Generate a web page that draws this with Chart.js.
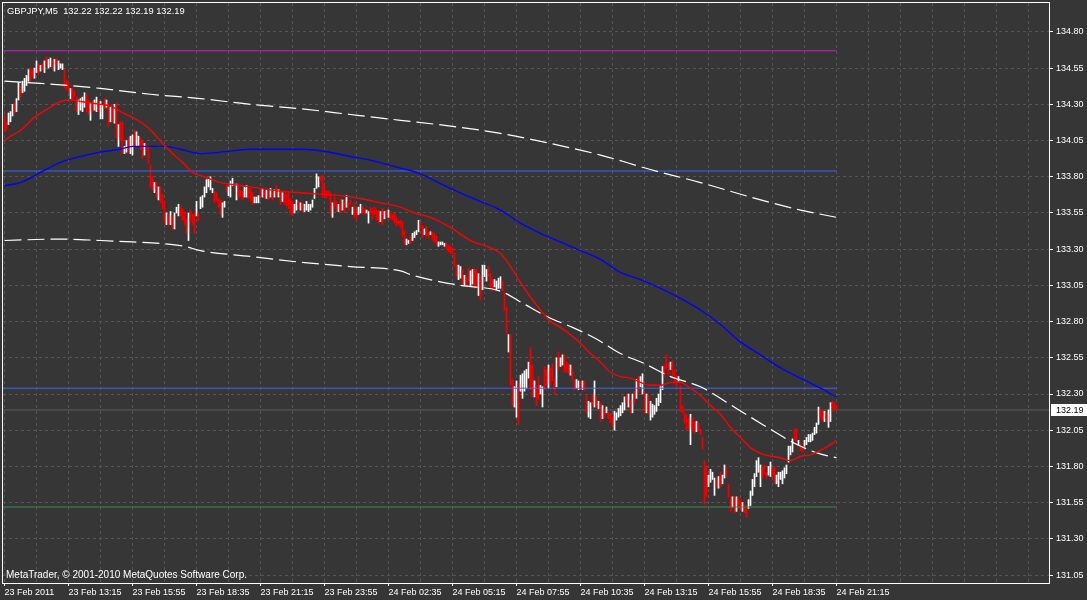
<!DOCTYPE html>
<html>
<head>
<meta charset="utf-8">
<script src="https://cdn.jsdelivr.net/npm/chart.js@4.4.1/dist/chart.umd.min.js"></script>
<style>
html,body{margin:0;padding:0;background:#363636;overflow:hidden;}
#wrap{position:relative;width:1087px;height:600px;}
canvas{display:block;}
</style>
</head>
<body>
<div id="wrap"><canvas id="c" width="1087" height="600"></canvas></div>
<script>
// ---------------- DATA ----------------
const symbolName = "GBPJPY,M5";
const lastOHLC = [132.22, 132.22, 132.19, 132.19];
const copyrightText = "MetaTrader, \u00A9 2001-2010 MetaQuotes Software Corp.";

const xTickLabels = ["23 Feb 2011","23 Feb 13:15","23 Feb 15:55","23 Feb 18:35","23 Feb 21:15","23 Feb 23:55","24 Feb 02:35","24 Feb 05:15","24 Feb 07:55","24 Feb 10:35","24 Feb 13:15","24 Feb 15:55","24 Feb 18:35","24 Feb 21:15"];
const yTickValues = [131.05,131.30,131.55,131.80,132.05,132.30,132.55,132.80,133.05,133.30,133.55,133.80,134.05,134.30,134.55,134.80];

const barHighs = [
134.23,134.18,134.24,134.25,134.30,134.31,134.34,134.45,134.43,134.46,
134.48,134.50,134.54,134.55,134.54,134.55,134.60,134.58,134.57,134.58,
134.60,134.63,134.61,134.62,134.60,134.61,134.62,134.60,134.58,134.58,
134.54,134.47,134.45,134.41,134.41,134.39,134.35,134.33,134.34,134.35,
134.38,134.37,134.33,134.31,134.32,134.33,134.35,134.32,134.32,134.30,
134.34,134.33,134.30,134.28,134.27,134.30,134.31,134.16,134.18,134.18,
134.01,134.05,134.07,134.08,134.09,134.12,134.11,134.08,134.07,134.05,
134.03,134.02,134.01,133.88,133.80,133.76,133.76,133.73,133.73,133.68,
133.63,133.55,133.54,133.56,133.53,133.55,133.59,133.61,133.59,133.58,
133.56,133.51,133.55,133.57,133.54,133.55,133.63,133.55,133.66,133.67,
133.73,133.78,133.79,133.80,
133.72,133.70,133.69,133.65,133.64,133.62,133.63,133.74,133.73,133.77,
133.79,133.75,133.75,133.74,133.71,133.70,133.73,133.74,133.72,133.72,
133.69,133.66,133.66,133.67,133.71,133.72,133.70,133.71,133.71,133.72,
133.69,133.71,133.74,133.71,133.70,133.69,133.70,133.68,133.69,133.65,
133.63,133.61,133.64,133.63,133.62,133.62,133.61,133.63,133.61,133.61,
133.64,133.72,133.82,133.80,133.80,133.81,133.74,133.70,133.70,133.69,
133.62,133.66,133.63,133.61,133.65,133.64,133.63,133.67,133.62,133.64,
133.59,133.62,133.57,133.59,133.61,133.60,133.58,133.57,133.56,133.59,
133.58,133.59,133.57,133.57,133.56,133.58,133.56,133.57,133.57,133.56,
133.54,133.55,133.52,133.50,133.50,133.49,133.43,133.37,133.36,133.39,
133.41,133.42,133.43,133.50,133.49,
133.46,133.44,133.46,133.42,133.42,133.42,133.41,133.39,133.35,133.35,
133.35,133.34,133.34,133.33,133.32,133.31,133.27,133.19,133.19,133.18,
133.16,133.12,133.11,133.17,133.15,133.16,133.17,133.16,133.13,133.12,
133.19,133.19,133.16,133.18,133.13,133.09,133.09,133.08,133.10,133.11,
133.08,133.00,132.90,132.71,132.71,132.40,132.35,132.39,132.37,132.43,
132.44,132.46,132.47,132.52,132.62,132.50,132.39,132.36,132.42,132.36,
132.35,132.49,132.47,132.50,132.48,132.51,132.40,132.55,132.59,132.55,
132.57,132.57,132.52,132.51,132.50,132.47,132.40,132.40,132.39,132.39,
132.39,132.39,132.29,132.25,132.24,132.30,132.39,132.28,132.25,132.24,
132.22,132.20,132.21,132.17,132.17,132.14,132.18,132.17,132.20,132.22,
132.24,132.28,132.30,132.30,132.26,
132.30,132.32,132.40,132.42,132.42,132.44,132.32,132.30,132.29,132.25,
132.23,132.22,132.27,132.30,132.35,132.49,132.50,132.57,132.51,132.52,
132.53,132.47,132.43,132.42,132.36,132.22,132.17,132.16,132.13,132.16,
132.14,132.11,132.11,132.10,132.06,132.00,131.84,131.80,131.74,131.78,
131.76,131.72,131.71,131.73,131.76,131.74,131.81,131.79,131.68,131.59,
131.59,131.59,131.59,131.59,131.57,131.55,131.53,131.51,131.57,131.63,
131.71,131.75,131.84,131.86,131.81,131.80,131.81,131.76,131.80,131.83,
131.79,131.80,131.74,131.76,131.76,131.77,131.79,131.81,131.94,131.94,
131.99,132.06,132.06,131.98,131.96,131.94,131.98,132.00,132.02,132.02,
132.03,132.07,132.10,132.21,132.19,132.19,132.18,132.17,132.19,132.24,
132.25,132.24,132.22
];

const barLows = [
134.11,134.12,134.16,134.18,134.22,134.24,134.25,134.33,134.35,134.38,
134.39,134.43,134.46,134.46,134.49,134.48,134.52,134.51,134.53,134.54,
134.52,134.57,134.55,134.56,134.55,134.53,134.57,134.54,134.55,134.54,
134.42,134.40,134.39,134.34,134.33,134.35,134.25,134.23,134.26,134.25,
134.28,134.25,134.23,134.19,134.25,134.26,134.25,134.25,134.20,134.20,
134.27,134.28,134.15,134.18,134.18,134.17,134.07,134.01,134.05,133.96,
133.96,133.97,133.97,133.96,133.95,134.01,134.01,134.01,133.99,133.93,
133.95,133.99,133.89,133.73,133.71,133.69,133.66,133.64,133.62,133.58,
133.48,133.47,133.47,133.47,133.44,133.44,133.55,133.53,133.53,133.50,
133.47,133.41,133.36,133.50,133.47,133.41,133.53,133.50,133.58,133.59,
133.66,133.69,133.73,133.71,
133.69,133.62,133.63,133.59,133.54,133.52,133.59,133.70,133.67,133.66,
133.74,133.73,133.64,133.66,133.66,133.64,133.66,133.66,133.65,133.63,
133.61,133.62,133.62,133.62,133.66,133.66,133.66,133.65,133.64,133.66,
133.64,133.66,133.67,133.66,133.61,133.63,133.61,133.60,133.58,133.54,
133.54,133.55,133.57,133.58,133.57,133.56,133.56,133.57,133.56,133.57,
133.59,133.65,133.72,133.73,133.77,133.66,133.66,133.65,133.67,133.54,
133.52,133.59,133.56,133.56,133.56,133.57,133.55,133.59,133.57,133.61,
133.54,133.52,133.50,133.54,133.55,133.55,133.54,133.55,133.48,133.55,
133.51,133.54,133.50,133.48,133.49,133.47,133.51,133.52,133.52,133.51,
133.50,133.48,133.46,133.47,133.45,133.39,133.33,133.33,133.34,133.34,
133.36,133.38,133.40,133.42,133.44,
133.38,133.40,133.39,133.38,133.40,133.36,133.35,133.33,133.32,133.33,
133.33,133.32,133.30,133.28,133.27,133.27,133.18,133.11,133.09,133.10,
133.06,133.05,133.04,133.08,133.05,133.06,133.03,133.04,132.98,132.95,
133.02,133.11,133.08,133.11,133.04,133.01,133.04,133.02,133.03,133.03,
133.01,132.88,132.72,132.59,132.36,132.22,132.21,132.14,132.09,132.32,
132.27,132.32,132.34,132.41,132.33,132.28,132.28,132.22,132.26,132.30,
132.21,132.33,132.36,132.34,132.36,132.39,132.30,132.35,132.47,132.49,
132.50,132.45,132.45,132.44,132.43,132.40,132.33,132.34,132.33,132.33,
132.33,132.32,132.17,132.14,132.13,132.22,132.21,132.21,132.20,132.11,
132.13,132.14,132.17,132.13,132.10,132.07,132.05,132.12,132.14,132.15,
132.17,132.19,132.24,132.21,132.17,
132.17,132.24,132.27,132.31,132.35,132.30,132.17,132.17,132.16,132.12,
132.14,132.16,132.18,132.22,132.24,132.33,132.42,132.48,132.43,132.47,
132.42,132.38,132.34,132.39,132.18,132.17,132.10,132.05,132.06,131.95,
132.05,132.03,132.04,132.05,132.02,131.92,131.54,131.59,131.66,131.69,
131.71,131.60,131.66,131.65,131.66,131.68,131.72,131.73,131.59,131.49,
131.52,131.48,131.49,131.52,131.50,131.49,131.48,131.45,131.51,131.53,
131.60,131.66,131.73,131.76,131.66,131.72,131.74,131.72,131.74,131.73,
131.73,131.68,131.68,131.66,131.71,131.68,131.72,131.75,131.83,131.88,
131.90,131.98,131.98,131.95,131.91,131.90,131.94,131.95,131.97,131.97,
131.98,132.02,132.03,132.09,132.13,132.12,132.11,132.11,132.07,132.11,
132.18,132.20,132.19
];

// u = bullish bar (close >= open), d = bearish bar
const barDirection = (
"dduuuduudu uuudduudud uduududuuu ddduddduuu udduduuduu dududududd uuduuduudd uddddududd dududuuudd dduddduduu uuuu " +
"udddduuduu ududdduudd duuudududu dudududddd duududuuuu uuuudddddd uddudududd udduudduud ddddududud ddddddduud uuuud " +
"dudduddduu uudddddduu dudduuddud uuuddduuuu dddudduudu uuuudduddu uddudddudu udddudduud udduududud ududdduuuu uudud " +
"ududuududu uuuuuudddu dddudddddu dduddddduu uududuuddd ududdudduu uuuuuddduu dduuuuuuuu uddudduuuu uuuudduduu ddd"
).replace(/\s+/g, "");

// Moving averages (bar index, value)
const maFastIdx = [0,3,8,15,23,28,33,38,48,53,58,64,69,74,79,84,89,94,100,108,118,128,138,148,158,168,178,188,198,205,213,223,233,243,248,253,258,263,268,273,278,283,288,293,298,303,308,313,318,323,328,333,338,343,348,353,358,363,368,373,378,383,388,393,398,403,408,413,416];
const maFastVal = [134.05,134.08,134.12,134.21,134.28,134.32,134.33,134.32,134.30,134.29,134.25,134.21,134.17,134.11,134.03,133.96,133.90,133.83,133.80,133.76,133.74,133.72,133.70,133.69,133.68,133.67,133.65,133.62,133.59,133.55,133.52,133.45,133.36,133.31,133.27,133.18,133.07,132.97,132.88,132.80,132.76,132.71,132.65,132.58,132.52,132.45,132.42,132.41,132.38,132.36,132.36,132.38,132.38,132.34,132.29,132.22,132.16,132.07,132.00,131.93,131.89,131.87,131.86,131.84,131.87,131.88,131.91,131.95,131.98];

const maSlowIdx = [0,8,18,28,38,48,58,64,73,80,88,98,108,123,143,158,173,181,198,206,223,236,248,258,268,278,288,298,308,318,328,338,348,358,367,378,388,398,408,416];
const maSlowVal = [133.74,133.76,133.83,133.90,133.94,133.97,133.99,134.01,134.01,134.01,133.99,133.96,133.97,133.99,133.99,133.98,133.94,133.92,133.86,133.83,133.72,133.64,133.57,133.48,133.41,133.35,133.29,133.23,133.14,133.09,133.03,132.96,132.88,132.78,132.67,132.57,132.48,132.41,132.34,132.28];

const bandUpIdx = [0,23,48,73,98,123,148,173,198,223,248,273,298,323,348,373,398,416];
const bandUpVal = [134.46,134.44,134.41,134.37,134.34,134.30,134.27,134.23,134.19,134.15,134.10,134.03,133.95,133.85,133.76,133.66,133.57,133.52];

const bandLoIdx = [0,28,48,64,78,90,98,123,148,173,198,204,228,248,260,272,284,296,308,320,333,348,366,379,395,407,416];
const bandLoVal = [133.36,133.37,133.36,133.35,133.34,133.32,133.29,133.25,133.21,133.18,133.15,133.12,133.05,133.01,132.92,132.83,132.76,132.68,132.58,132.51,132.42,132.35,132.20,132.09,131.96,131.89,131.86];

// Horizontal levels drawn on the chart
const levelTop = 134.67;
const levelResist = 133.84;
const levelSupport = 132.34;
const levelBottom = 131.52;

// ---------------- CHART ----------------
const X_MIN = -0.75, X_MAX = 522.25;
const lastBar = barHighs.length - 1;
const zip = (idx, val) => idx.map((x, i) => ({x: x, y: val[i]}));
const hline = (v, x1) => [{x: X_MIN, y: v}, {x: x1, y: v}];

const barData = barHighs.map((h, i) => ({x: i, y: [barLows[i], h]}));
const barColors = barHighs.map((h, i) => (barDirection[i] === 'd' ? '#ee0000' : '#ffffff'));

const FONT = {family: '"Liberation Sans", Arial, sans-serif', size: 9};

const framePlugin = {
  id: 'frame',
  beforeDraw(chart) {
    const ctx = chart.ctx;
    ctx.save();
    ctx.fillStyle = '#363636';
    ctx.fillRect(0, 0, chart.width, chart.height);
    ctx.restore();
  },
  afterDraw(chart) {
    const ctx = chart.ctx, a = chart.chartArea;
    ctx.save();
    ctx.strokeStyle = '#ffffff';
    ctx.lineWidth = 1;
    ctx.strokeRect(a.left - 0.5, a.top - 0.5, a.right - a.left + 1, a.bottom - a.top + 1);
    ctx.fillStyle = '#ffffff';
    ctx.textBaseline = 'alphabetic';
    ctx.textAlign = 'left';
    ctx.font = '9.3px "Liberation Sans", Arial, sans-serif';
    ctx.fillText(symbolName + '  ' + lastOHLC.map(v => v.toFixed(2)).join(' '), 7, 14);
    ctx.font = '10px "Liberation Sans", Arial, sans-serif';
    ctx.fillText(copyrightText, 6, 578);
    const y = Math.round(chart.scales.y.getPixelForValue(lastOHLC[3]));
    ctx.fillStyle = '#ffffff';
    ctx.fillRect(a.right + 2, y - 6, chart.width - a.right - 2, 12);
    ctx.fillStyle = '#000000';
    ctx.textBaseline = 'middle';
    ctx.font = '9px "Liberation Sans", Arial, sans-serif';
    ctx.fillText(lastOHLC[3].toFixed(2), a.right + 7, y + 0.5);
    ctx.restore();
  }
};

const lineBase = {type: 'line', pointRadius: 0, borderWidth: 1, fill: false, order: 0, cubicInterpolationMode: 'monotone'};

new Chart(document.getElementById('c'), {
  type: 'bar',
  data: {
    datasets: [
      Object.assign({}, lineBase, {label: 'price', data: hline(lastOHLC[3], X_MAX), borderColor: '#5e5e5e', order: 20}),
      Object.assign({}, lineBase, {label: 'top', data: hline(levelTop, lastBar), borderColor: '#c81ec8', order: 5}),
      Object.assign({}, lineBase, {label: 'bottom', data: hline(levelBottom, lastBar), borderColor: '#3e8a4e', order: 5}),
      Object.assign({}, lineBase, {label: 'res', data: hline(levelResist, lastBar), borderColor: '#3c64ff', order: 5}),
      Object.assign({}, lineBase, {label: 'sup', data: hline(levelSupport, lastBar), borderColor: '#3c64ff', order: 5}),
      Object.assign({}, lineBase, {label: 'bandUp', data: zip(bandUpIdx, bandUpVal), borderColor: '#ffffff', borderWidth: 1.2, borderDash: [17, 6], order: 3}),
      Object.assign({}, lineBase, {label: 'bandLo', data: zip(bandLoIdx, bandLoVal), borderColor: '#ffffff', borderWidth: 1.2, borderDash: [17, 6], order: 3}),
      Object.assign({}, lineBase, {label: 'maSlow', data: zip(maSlowIdx, maSlowVal), borderColor: '#0000ff', borderWidth: 1.4, order: 2}),
      Object.assign({}, lineBase, {label: 'maFast', data: zip(maFastIdx, maFastVal), borderColor: '#ff0000', borderWidth: 1.4, order: 1}),
      {
        type: 'bar', label: 'bars', data: barData,
        backgroundColor: barColors, borderWidth: 0,
        barThickness: 1, order: 10
      }
    ]
  },
  options: {
    responsive: false,
    animation: false,
    devicePixelRatio: 1,
    events: [],
    layout: {padding: {left: 3, top: 3, right: 0, bottom: 0}, autoPadding: false},
    plugins: {legend: {display: false}, tooltip: {enabled: false}},
    scales: {
      x: {
        type: 'linear', min: X_MIN, max: X_MAX, offset: false,
        afterBuildTicks(scale) {
          const t = [];
          for (let v = 0; v <= X_MAX; v += 16) t.push({value: v});
          scale.ticks = t;
        },
        afterFit(scale) { scale.height = 17; scale.paddingLeft = 0; scale.paddingRight = 0; },
        grid: {
          offset: false, color: '#555555', lineWidth: 1, drawTicks: true, tickLength: 3,
          tickColor: (c) => {
            const v = c.tick ? c.tick.value : -1;
            return (v % 32 === 0 && v / 32 < xTickLabels.length) ? '#ffffff' : 'rgba(0,0,0,0)';
          }
        },
        border: {display: false, dash: [3, 3]},
        ticks: {
          autoSkip: false, maxRotation: 0, minRotation: 0, align: 'start', padding: 1,
          color: '#ffffff', font: FONT,
          callback: (v) => (v % 32 === 0 && v / 32 < xTickLabels.length) ? xTickLabels[v / 32] : ''
        }
      },
      y: {
        type: 'linear', position: 'right', min: 130.995, max: 135.0,
        afterBuildTicks(scale) { scale.ticks = yTickValues.map(v => ({value: v})); },
        afterFit(scale) { scale.width = 38; scale.paddingTop = 0; scale.paddingBottom = 0; },
        grid: {color: '#555555', lineWidth: 1, drawTicks: true, tickLength: 4, tickColor: '#ffffff'},
        border: {display: false, dash: [3, 3]},
        ticks: {autoSkip: false, padding: 3, color: '#ffffff', font: FONT, callback: (v) => Number(v).toFixed(2)}
      }
    }
  },
  plugins: [framePlugin]
});
</script>
</body>
</html>
